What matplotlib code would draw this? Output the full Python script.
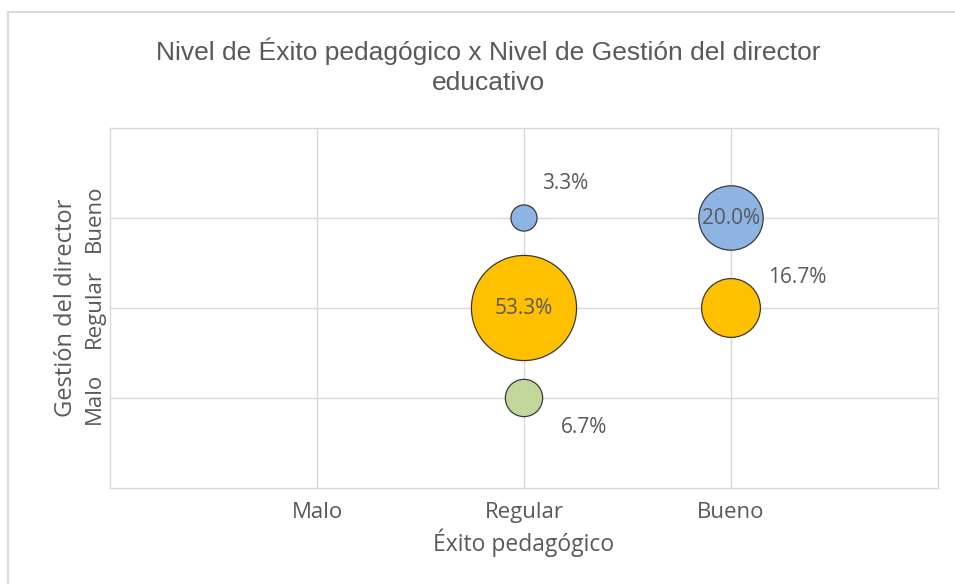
import matplotlib
matplotlib.use("Agg")
import matplotlib.pyplot as plt
from matplotlib.patches import Rectangle

# Data
categories = ["Malo", "Regular", "Bueno"]
x_vals = [2, 3, 2, 3, 2]          # Éxito pedagógico (1=Malo, 2=Regular, 3=Bueno)
y_vals = [3, 3, 2, 2, 1]          # Gestión del director
percent = [3.3, 20.0, 53.3, 16.7, 6.7]
colors = ["#8DB4E2", "#8DB4E2", "#FFC000", "#FFC000", "#C4D79B"]
label_offsets = [(30, 25), (0, 0), (0, 0), (48, 22), (43, -21)]  # points

fig = plt.figure(figsize=(9.55, 5.84), dpi=100)
fig.patches.append(Rectangle((8/955, -0.1), 1.1, 1.1 - 12/584, transform=fig.transFigure,
                             fill=False, edgecolor="#D9D9D9", linewidth=1.5))

ax = fig.add_axes([110/955, 1 - 488/584, (938-110)/955, (488-128)/584])
ax.set_xlim(0, 4)
ax.set_ylim(0, 4)

scale = 107.5
sizes = [scale * p for p in percent]
ax.scatter(x_vals, y_vals, s=sizes, c=colors, edgecolors="#3A3A3A", linewidths=0.9, zorder=3)

for x, y, p, off in zip(x_vals, y_vals, percent, label_offsets):
    ax.annotate(f"{p:.1f}%", (x, y), xytext=off, textcoords="offset points",
                ha="center", va="center", fontsize=15, color="#595959",
                family="Open Sans", zorder=4)

ax.set_xticks([1, 2, 3])
ax.set_xticklabels(categories, family="Open Sans", fontsize=16, color="#595959")
ax.set_yticks([1, 2, 3])
ax.set_yticklabels(categories, family="Open Sans", fontsize=16, color="#595959",
                   rotation=90, va="center")
ax.tick_params(axis="x", length=0, pad=10)
ax.tick_params(axis="y", length=0, pad=4)
ax.grid(True, color="#D9D9D9", linewidth=1)
ax.set_axisbelow(True)
for s in ax.spines.values():
    s.set_color("#D9D9D9")
    s.set_linewidth(1)

ax.set_xlabel("Éxito pedagógico", family="Open Sans", fontsize=16.5, color="#595959", labelpad=4)
ax.set_ylabel("Gestión del director", family="Open Sans", fontsize=17, color="#595959", labelpad=4)

fig.text(488/955, 1 - 66/584, "Nivel de Éxito pedagógico x Nivel de Gestión del director\neducativo",
         ha="center", va="center", family="Liberation Sans", fontsize=19, color="#595959",
         linespacing=1.3)

fig.savefig("out.png", dpi=100, facecolor="white")
